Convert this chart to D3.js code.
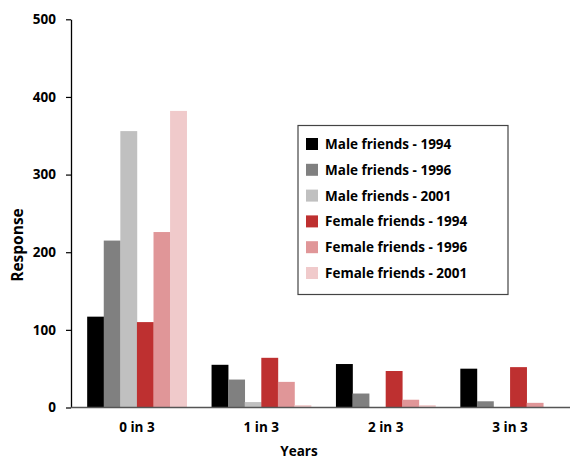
<!DOCTYPE html>
<html>
<head>
<meta charset="utf-8">
<script src="https://cdn.jsdelivr.net/npm/d3@7"></script>
<style>
  html, body { margin: 0; padding: 0; background: #fff; }
  text { font-family: "Open Sans", Lato, sans-serif; font-weight: bold; fill: #000; }
</style>
</head>
<body>
<svg id="chart" width="570" height="459"></svg>
<script>
const categories = ["0 in 3", "1 in 3", "2 in 3", "3 in 3"];
const seriesNames = ["Male friends - 1994", "Male friends - 1996", "Male friends - 2001",
                     "Female friends - 1994", "Female friends - 1996", "Female friends - 2001"];
const male1994 = [117, 55, 56, 50];
const male1996 = [215, 36, 18, 8];
const male2001 = [356, 7, 0, 0];
const female1994 = [110, 64, 47, 52];
const female1996 = [226, 33, 10, 6];
const female2001 = [382, 3, 3, 0];
const yTicks = [0, 100, 200, 300, 400, 500];
const colors = ["#000000", "#808080", "#c0c0c0", "#be3030", "#e09698", "#f0cacb"];

const seriesValues = [male1994, male1996, male2001, female1994, female1996, female2001];
const FONT = "'Open Sans', Lato, sans-serif";

const svg = d3.select("#chart");

const x = d3.scaleBand().domain(categories).range([71, 576]).paddingInner(0.2).paddingOuter(0.13);
const xs = d3.scaleBand().domain(d3.range(seriesNames.length)).range([0, x.bandwidth()]).padding(0);
const y = d3.scaleLinear().domain([0, 500]).range([407.5, 19.3]);

// bars
const groups = svg.append("g").selectAll("g")
  .data(categories)
  .join("g")
  .attr("transform", d => `translate(${x(d)},0)`);

groups.selectAll("rect")
  .data((c, ci) => seriesValues.map((vals, si) => ({ si, v: vals[ci] })))
  .join("rect")
  .attr("x", d => xs(d.si))
  .attr("width", xs.bandwidth() + 0.3)
  .attr("y", d => y(d.v))
  .attr("height", d => y(0) - y(d.v))
  .attr("fill", d => colors[d.si]);

// y axis
const yAxis = d3.axisLeft(y).tickValues(yTicks).tickSize(5).tickPadding(10).tickSizeOuter(0);
const yg = svg.append("g").attr("transform", "translate(71,0)").call(yAxis);
yg.select(".domain").attr("stroke", "#000").attr("stroke-width", 1.3);
yg.selectAll(".tick line").attr("stroke", "#000").attr("stroke-width", 1.2);
yg.selectAll(".tick text").attr("font-size", 13.5).attr("font-family", FONT).attr("font-weight", "bold").attr("fill", "#000");

// x axis
const xAxis = d3.axisBottom(x).tickSize(0).tickPadding(15).tickSizeOuter(0);
const xg = svg.append("g").attr("transform", `translate(0,${y(0)})`).call(xAxis);
xg.select(".domain").attr("stroke", "#555").attr("stroke-width", 1.5).attr("d", `M71,0H570`);
xg.selectAll(".tick text").attr("font-size", 13.5).attr("font-family", FONT).attr("font-weight", "bold").attr("fill", "#000");

// axis titles
svg.append("text")
  .attr("transform", "translate(23,245) rotate(-90)")
  .attr("text-anchor", "middle")
  .attr("font-size", 15.5)
  .text("Response");

svg.append("text")
  .attr("x", 299).attr("y", 456)
  .attr("text-anchor", "middle")
  .attr("font-size", 13.5)
  .text("Years");

// legend
const lg = svg.append("g");
lg.append("rect")
  .attr("x", 298).attr("y", 125.5).attr("width", 210).attr("height", 169)
  .attr("fill", "#fff").attr("stroke", "#444").attr("stroke-width", 1.2);

const items = lg.selectAll("g.item").data(seriesNames).join("g")
  .attr("class", "item")
  .attr("transform", (d, i) => `translate(306,${144 + i * 25.8})`);
items.append("rect").attr("x", 0).attr("y", -6).attr("width", 12).attr("height", 12)
  .attr("fill", (d, i) => colors[i]);
items.append("text").attr("x", 19).attr("y", 5).attr("font-size", 13.5).text(d => d);
</script>
</body>
</html>
